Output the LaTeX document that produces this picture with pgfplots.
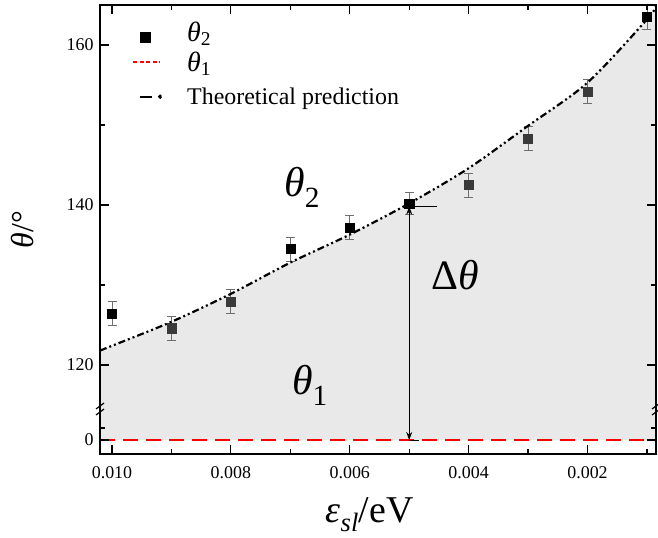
\documentclass[border=0pt]{standalone}
\usepackage{fontspec}
\setmainfont{Liberation Serif}
\usepackage{pgfplots}
\usepackage{pgfplotstable}
\pgfplotsset{compat=1.18}
\usepgfplotslibrary{fillbetween}
\usetikzlibrary{arrows.meta}
\definecolor{shadecol}{RGB}{233,233,233}
\definecolor{dkgray}{RGB}{58,58,58}
\definecolor{ebgray}{RGB}{110,110,110}

% x in units of 0.001 eV; y: 0 is drawn at 110.625 (broken axis)
\pgfplotstableread{
x y e
10 126.4 1.5
7 134.5 1.5
6 137.2 1.5
5 140.2 1.4
1 163.5 1.5
}\tblblack
\pgfplotstableread{
x y e
9 124.6 1.5
8 127.9 1.5
4 142.5 1.5
3 148.3 1.5
2 154.2 1.5
}\tblgray
\pgfplotstableread{
x y
10.202 121.8
10 122.4
9 125.4
8 128.9
7 132.8
6 136.3
5 140.2
4 144.6
3 149.9
2 155.3
1 163.2
0.848 164.9
}\tbltheory

\begin{document}
\begin{tikzpicture}
\begin{axis}[
  scale only axis, width=556bp, height=449bp,
  xmin=0.848, xmax=10.202, x dir=reverse,
  ymin=108.875, ymax=165,
  xtick={2,4,6,8,10}, xticklabels={0.002,0.004,0.006,0.008,0.010},
  minor xtick={1,3,5,7,9},
  ytick={110.625,120,140,160}, yticklabels={0,120,140,160},
  minor ytick={112.125,130,150},
  tick align=inside,
  major tick length=9bp, minor tick length=5bp,
  tick style={black, line width=1.2bp},
  axis line style={line width=1.4bp},
  ticklabel style={font=\fontsize{18}{20}\selectfont},
  xticklabel style={yshift=-9bp},
  yticklabel style={xshift=-3bp},
  /pgf/number format/assume math mode=true,
  axis on top,
  xlabel={\textit{ε}\textsubscript{\textit{sl}}/eV},
  xlabel style={font=\fontsize{38}{40}\selectfont, at={(axis description cs:0.485,-0.135)}, anchor=center},
  ylabel={\textit{θ}/°},
  ylabel style={font=\fontsize{32}{34}\selectfont, at={(axis description cs:-0.14,0.5)}, anchor=center},
  legend style={at={(rel axis cs:0.0576,0.971)}, anchor=north west, draw=none, fill=none,
    inner sep=0pt, outer sep=0pt,
    font=\fontsize{28}{30}\selectfont,
    row sep=4bp, cells={anchor=base west, inner sep=1bp},
    /tikz/every odd column/.append style={column sep=23bp}},
  legend cell align=left,
]
\coordinate (SW) at (rel axis cs:0,0);
\coordinate (BL) at (rel axis cs:0,0.1002);
\coordinate (BR) at (rel axis cs:1,0.1002);

\addplot[name path=theory, draw=none, forget plot, smooth] table {\tbltheory};
\addplot[name path=base, draw=none, forget plot] coordinates {(10.202,110.625) (0.848,110.625)};
\addplot[fill=shadecol, draw=none, forget plot] fill between[of=theory and base];

\addplot[only marks, mark=square*, mark size=4.6bp, black,
  error bars/.cd, y dir=both, y explicit,
  error bar style={ebgray, line width=0.9bp},
  error mark options={rotate=90, ebgray, mark size=4.5bp, line width=0.9bp},
  /pgfplots/legend image code/.code={\fill[black] (7.4bp,-10.6bp) rectangle (16.6bp,-1.4bp);}]
  table[x=x, y=y, y error=e] {\tblblack};
\addlegendentry{\rule[-7bp]{0pt}{28bp}\textit{θ}\textsubscript{2}}

\addplot[only marks, mark=square*, mark size=4.6bp, dkgray, forget plot,
  error bars/.cd, y dir=both, y explicit,
  error bar style={ebgray, line width=0.9bp},
  error mark options={rotate=90, ebgray, mark size=4.5bp, line width=0.9bp}]
  table[x=x, y=y, y error=e] {\tblgray};

\addplot[red, line width=2.6bp, dash pattern=on 15bp off 8bp,
  legend image code/.code={\draw[red, line width=2.4bp, dash pattern=on 4bp off 2.5bp] (0bp,0bp) -- (27bp,0bp);}]
  coordinates {(10.202,110.625) (0.848,110.625)};
\addlegendentry{\rule[-7bp]{0pt}{28bp}\textit{θ}\textsubscript{1}}

\addplot[black, line width=2.2bp, smooth, dash pattern=on 7bp off 3bp on 2bp off 3bp on 2bp off 3bp,
  legend image code/.code={\draw[black, line width=1.6bp, solid] (7bp,-3bp) -- (19bp,-3bp); \fill[black] (27bp,-3bp) circle (0.9bp);}]
  table {\tbltheory};
\addlegendentry{\rule[-7bp]{0pt}{31bp}\fontsize{24}{26}\selectfont Theoretical prediction}

% annotation: Delta theta
\draw[black, line width=0.9bp, {Stealth[length=8bp,width=6bp]}-{Stealth[length=8bp,width=6bp]}]
  (axis cs:5,139.8) -- (axis cs:5,110.625);
\draw[black, line width=0.9bp] (axis cs:5,139.8) -- (axis cs:4.526,139.8);
\draw[black, line width=0.9bp] (axis cs:5,110.625) -- (axis cs:4.83,110.625);

\node at (axis cs:6.8,142.2) {\fontsize{42}{46}\selectfont\textit{θ}\textsubscript{2}};
\node at (axis cs:4.22,131.3) {\fontsize{42}{46}\selectfont Δ\textit{θ}};
\node at (axis cs:6.67,117.5) {\fontsize{42}{46}\selectfont\textit{θ}\textsubscript{1}};
\end{axis}

% axis breaks
\fill[white] (BL) ++(-3bp,-3bp) rectangle ++(3.8bp,6bp);
\fill[white] (BR) ++(-0.8bp,-3bp) rectangle ++(3.8bp,6bp);
\foreach \p in {BL,BR}{
  \draw[black, line width=1.2bp] (\p) ++(-4bp,0bp) -- ++(8bp,6bp);
  \draw[black, line width=1.2bp] (\p) ++(-4bp,-6bp) -- ++(8bp,6bp);
}

\pgfresetboundingbox
\path (SW) ++(-100bp,-84bp) rectangle ++(658bp,538bp);
\end{tikzpicture}
\end{document}
